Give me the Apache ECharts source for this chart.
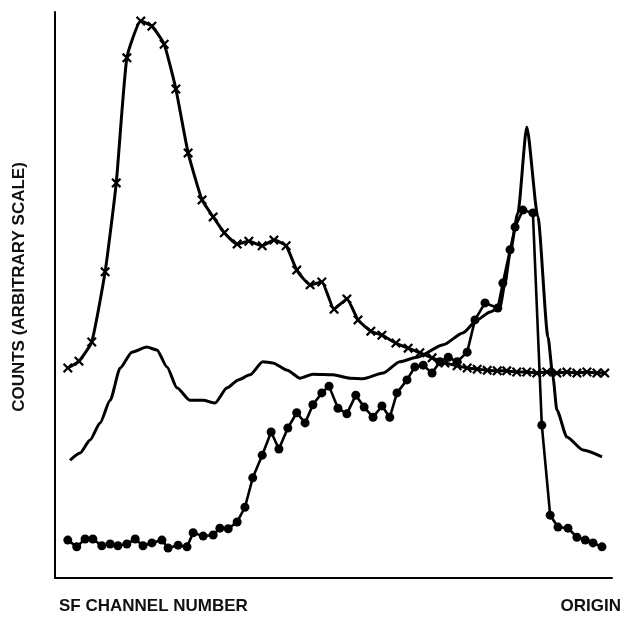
<!DOCTYPE html>
<html>
<head>
<meta charset="utf-8">
<script src="https://cdn.jsdelivr.net/npm/echarts@6/dist/echarts.min.js"></script>
<style>html,body{margin:0;padding:0;background:#fff;}#c{width:622px;height:620px;}</style>
</head>
<body>
<div id="c"></div>
<script>
// Channel position (0-100, left to right toward origin) and counts (arbitrary, 0-100)
const crossSeries = [
  [2.3,37.1],[4.3,38.3],[6.6,41.7],[9.0,54.1],[11.0,69.8],[12.9,91.9],[15.4,98.4],[17.4,97.5],
  [19.6,94.3],[21.7,86.4],[23.9,75.1],[26.4,66.8],[28.4,63.8],[30.4,61.0],[32.7,59.0],[34.8,59.5],
  [37.2,58.7],[39.3,59.7],[41.5,58.7],[43.4,54.4],[45.8,51.8],[47.9,52.3],[50.1,47.5],[52.4,49.3],
  [54.4,45.6],[56.7,43.6],[58.7,42.9],[61.2,41.5],[63.4,40.6],[65.5,39.8],[67.7,38.9],[70.0,38.0],
  [72.2,37.5],[74.0,37.1],[75.8,36.9],[77.6,36.7],[79.4,36.6],[81.1,36.6],[82.9,36.4],[84.7,36.4],
  [86.5,36.2],[88.3,36.4],[90.1,36.2],[91.9,36.4],[93.7,36.2],[95.5,36.4],[97.3,36.2],[98.7,36.2]
];
const thinSeries = [
  [2.7,20.8],[4.5,22.1],[6.3,24.4],[8.1,27.4],[9.9,31.4],[11.7,37.1],[13.8,39.9],[16.5,40.8],
  [18.3,40.3],[20.1,37.3],[21.9,33.6],[24.2,31.4],[26.6,31.4],[28.7,30.9],[30.9,33.6],[32.9,35.0],
  [35.0,35.9],[37.3,38.2],[39.1,38.0],[41.7,36.7],[44.0,35.3],[46.3,36.0],[49.9,35.9],[53.0,35.3],
  [55.3,35.2],[58.9,36.2],[61.9,38.2],[65.0,39.0],[69.7,41.2],[73.2,43.3],[75.8,45.6],[78.1,47.0],
  [79.9,47.9],[80.8,52.1],[81.7,57.4],[83.1,64.5],[84.7,79.7],[86.7,63.8],[88.5,42.6],[89.4,35.5],
  [90.1,29.7],[91.9,24.9],[94.8,22.6],[98.2,21.4]
];
const dotSeries = [
  [2.3,6.7],[3.9,5.5],[5.4,6.9],[6.8,6.9],[8.4,5.7],[9.9,6.0],[11.3,5.7],[12.9,6.0],[14.4,6.9],
  [15.8,5.7],[17.4,6.2],[19.2,6.7],[20.3,5.3],[22.1,5.8],[23.7,5.5],[24.8,8.0],[26.6,7.4],[28.4,7.6],
  [29.6,8.8],[31.1,8.7],[32.7,9.9],[34.1,12.5],[35.5,17.7],[37.2,21.7],[38.8,25.8],[40.2,22.8],
  [41.8,26.5],[43.4,29.2],[44.9,27.4],[46.3,30.6],[47.9,32.7],[49.2,33.9],[50.8,30.0],[52.4,29.0],
  [54.0,32.3],[55.5,30.2],[57.1,28.4],[58.7,30.4],[60.1,28.4],[61.4,32.7],[63.2,35.0],[64.6,37.3],
  [66.1,37.6],[67.7,36.2],[69.1,38.2],[70.6,39.0],[72.2,38.2],[74.0,39.9],[75.4,45.6],[77.2,48.6],
  [79.5,47.7],[80.4,52.1],[81.7,58.0],[82.6,62.0],[84.0,65.0],[85.8,64.5],[87.4,27.0],[88.9,11.1],
  [90.3,9.0],[92.1,8.8],[93.7,7.2],[95.2,6.7],[96.6,6.2],[98.2,5.5]
];
const xLabelLeft = 'SF CHANNEL NUMBER';
const xLabelRight = 'ORIGIN';
const yLabel = 'COUNTS (ARBITRARY SCALE)';

const crossPath = 'path://M0,1.6L1.6,0L5,3.4L8.4,0L10,1.6L6.6,5L10,8.4L8.4,10L5,6.6L1.6,10L0,8.4L3.4,5Z';
const font = 'Liberation Sans';
const labelStyle = {fontFamily: font, fontSize: 17, fontWeight: 'bold', color: '#111'};

const chart = echarts.init(document.getElementById('c'), null, {renderer: 'canvas'});
const axisCommon = {
  type: 'value', min: 0, max: 100,
  axisLine: {show: true, onZero: false, lineStyle: {color: '#000', width: 2}},
  axisTick: {show: false}, axisLabel: {show: false}, splitLine: {show: false}
};
chart.setOption({
  animation: false,
  backgroundColor: '#fff',
  grid: {left: 55, right: 10, top: 12, bottom: 42},
  xAxis: Object.assign({}, axisCommon),
  yAxis: Object.assign({}, axisCommon),
  title: [
    {text: xLabelLeft, left: 59, top: 598, textStyle: labelStyle, padding: 0},
    {text: xLabelRight, right: 1, top: 598, textStyle: labelStyle, padding: 0}
  ],
  graphic: [{
    type: 'text', x: 19, y: 287, rotation: Math.PI / 2,
    style: {text: yLabel, fontFamily: font, fontSize: 17, fontWeight: 'bold', fill: '#111',
            textAlign: 'center', textVerticalAlign: 'middle'}
  }],
  series: [
    {type: 'line', data: thinSeries, smooth: 0.22, smoothMonotone: 'x', showSymbol: false, symbol: 'none',
     lineStyle: {color: '#000', width: 3}},
    {type: 'line', data: crossSeries, smooth: 0.15, symbol: crossPath, symbolSize: 10,
     itemStyle: {color: '#000'}, lineStyle: {color: '#000', width: 3}},
    {type: 'line', data: dotSeries, smooth: false, symbol: 'circle', symbolSize: 9,
     itemStyle: {color: '#000'}, lineStyle: {color: '#000', width: 2.6}}
  ]
});
</script>
</body>
</html>
